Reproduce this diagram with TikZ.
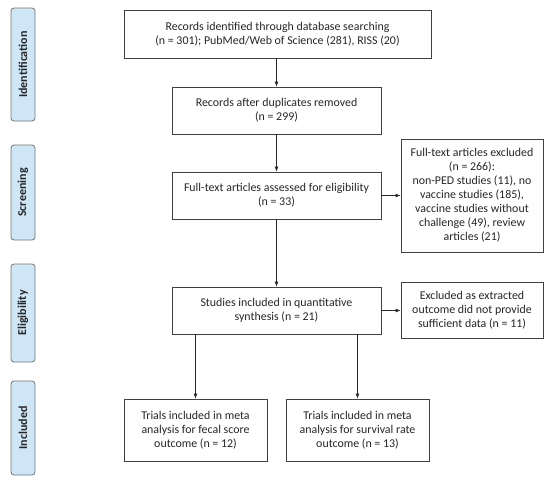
\documentclass[tikz,border=0pt]{standalone}
\usepackage{fontspec}
\setmainfont{Carlito}
\usetikzlibrary{arrows.meta}
\definecolor{sidefill}{HTML}{CFE6F7}
\definecolor{linegray}{HTML}{404040}
\begin{document}
\begin{tikzpicture}[x=1pt,y=-1pt,
  box/.style={draw=linegray, line width=0.8pt, fill=white, align=center, inner sep=2pt,
    font=\fontsize{11.9}{14}\selectfont, text=black!85},
  side/.style={draw=black!55, line width=0.8pt, fill=sidefill, rounded corners=3pt, rotate=90,
    minimum height=24pt, inner sep=0pt, font=\bfseries\fontsize{12}{14}\selectfont, text=black!85},
  arr/.style={draw=black!85, line width=0.8pt, -{Latex[length=5pt,width=4pt]}}]
\useasboundingbox (0,0) rectangle (550,485);
\node[side, minimum width=113pt] (sid) at (23,64.5) {Identification};
\node[side, minimum width=95pt] (sscr) at (23,192.5) {Screening};
\node[side, minimum width=98pt] (selig) at (23,313) {Eligibility};
\node[side, minimum width=94pt] (sinc) at (23,428) {Included};
\node[box, minimum width=307pt, minimum height=48pt] (b1) at (277.5,34)
  {Records identified through database searching\\(n = 301); PubMed/Web of Science (281), RISS (20)};
\node[box, minimum width=209pt, minimum height=47pt] (b2) at (276.5,110.5)
  {Records after duplicates removed\\(n = 299)};
\node[box, minimum width=209pt, minimum height=47pt] (b3) at (276.5,195.5)
  {Full-text articles assessed for eligibility\\(n = 33)};
\node[box, minimum width=142pt, minimum height=113pt] (e1) at (472,195.5)
  {Full-text articles excluded\\(n = 266):\\non-PED studies (11), no\\vaccine studies (185),\\vaccine studies without\\challenge (49), review\\articles (21)};
\node[box, minimum width=209pt, minimum height=47pt] (b4) at (276.5,310.5)
  {Studies included in quantitative\\synthesis (n = 21)};
\node[box, minimum width=142pt, minimum height=56pt] (e2) at (472,310.5)
  {Excluded as extracted\\outcome did not provide\\sufficient data (n = 11)};
\node[box, minimum width=143pt, minimum height=62pt] (b5) at (195.5,430)
  {Trials included in meta\\analysis for fecal score\\outcome (n = 12)};
\node[box, minimum width=143pt, minimum height=62pt] (b6) at (357.5,430)
  {Trials included in meta\\analysis for survival rate\\outcome (n = 13)};
\draw[arr] (b1.south -| b2.north) -- (b2.north);
\draw[arr] (b2.south) -- (b3.north);
\draw[arr] (b3.east) -- (e1.west |- b3.east);
\draw[arr] (b3.south) -- (b4.north);
\draw[arr] (b4.east) -- (e2.west |- b4.east);
\draw[arr] (b4.south -| b5.north) -- (b5.north);
\draw[arr] (b4.south -| b6.north) -- (b6.north);
\end{tikzpicture}
\end{document}
